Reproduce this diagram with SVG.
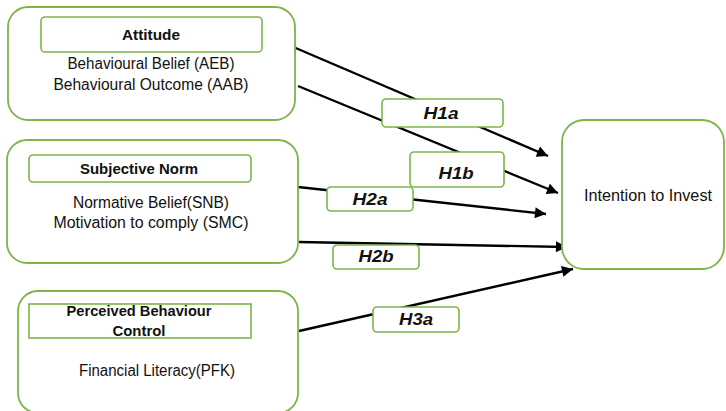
<svg xmlns="http://www.w3.org/2000/svg" width="726" height="411" viewBox="0 0 726 411">
  <defs>
    <marker id="arrow" viewBox="0 0 10 10" refX="10" refY="5" markerWidth="5.5" markerHeight="4.6" markerUnits="strokeWidth" orient="auto">
      <path d="M0,0 L10,5 L0,10 z" fill="#000"/>
    </marker>
  </defs>
  <style>
    .outer { fill: #fff; stroke: #7ab648; stroke-width: 1.8; }
    .inner { fill: #fff; stroke: #7ab648; stroke-width: 1.6; }
    .tag { fill: #fff; stroke: #7ab648; stroke-width: 1.6; }
    .conn { stroke: #000; stroke-width: 2.4; fill: none; marker-end: url(#arrow); }
    text { font-family: "Liberation Sans", Arial, sans-serif; fill: #111; text-anchor: middle; }
    .title { font-size: 15.5px; font-weight: bold; }
    .body { font-size: 16px; }
    .h { font-size: 16.5px; font-weight: bold; font-style: italic; }
  </style>

  <!-- connectors -->
  <g id="connectors">
    <line class="conn" x1="291" y1="46" x2="548" y2="156"/>
    <line class="conn" x1="298" y1="86" x2="558" y2="193"/>
    <line class="conn" x1="298" y1="187" x2="546" y2="214"/>
    <line class="conn" x1="299" y1="242" x2="567" y2="247"/>
    <line class="conn" x1="299" y1="331" x2="573" y2="269"/>
  </g>

  <!-- Attitude -->
  <g id="attitude">
    <rect class="outer" x="8" y="7" width="287" height="113" rx="20"/>
    <rect class="inner" x="41" y="17" width="221" height="35" rx="4"/>
    <text class="title" x="151" y="40" textLength="58" lengthAdjust="spacingAndGlyphs">Attitude</text>
    <text class="body" x="151" y="69" textLength="167" lengthAdjust="spacingAndGlyphs">Behavioural Belief (AEB)</text>
    <text class="body" x="151" y="90" textLength="195" lengthAdjust="spacingAndGlyphs">Behavioural Outcome (AAB)</text>
  </g>

  <!-- Subjective Norm -->
  <g id="subjective-norm">
    <rect class="outer" x="7" y="140" width="291" height="123" rx="20"/>
    <rect class="inner" x="29" y="155" width="222" height="27" rx="4"/>
    <text class="title" x="139" y="174" textLength="118" lengthAdjust="spacingAndGlyphs">Subjective Norm</text>
    <text class="body" x="151" y="208" textLength="156" lengthAdjust="spacingAndGlyphs">Normative Belief(SNB)</text>
    <text class="body" x="151" y="228" textLength="195" lengthAdjust="spacingAndGlyphs">Motivation to comply (SMC)</text>
  </g>

  <!-- Perceived Behaviour Control -->
  <g id="perceived-control">
    <rect class="outer" x="18" y="291" width="280" height="122" rx="20"/>
    <rect class="inner" x="29" y="304" width="222" height="34" rx="0"/>
    <text class="title" x="139" y="316" textLength="145" lengthAdjust="spacingAndGlyphs">Perceived Behaviour</text>
    <text class="title" x="139" y="336" textLength="53" lengthAdjust="spacingAndGlyphs">Control</text>
    <text class="body" x="157" y="376" textLength="156" lengthAdjust="spacingAndGlyphs">Financial Literacy(PFK)</text>
  </g>

  <!-- Intention to Invest -->
  <g id="intention">
    <rect class="outer" x="562" y="120" width="162" height="149" rx="22"/>
    <text class="body" x="648" y="201" textLength="128" lengthAdjust="spacingAndGlyphs">Intention to Invest</text>
  </g>

  <!-- hypothesis labels -->
  <g id="h1a">
    <rect class="tag" x="382" y="99" width="121" height="28" rx="4"/>
    <text class="h" x="441" y="119" textLength="35" lengthAdjust="spacingAndGlyphs">H1a</text>
  </g>
  <g id="h1b">
    <rect class="tag" x="410" y="152" width="94" height="35" rx="4"/>
    <text class="h" x="456" y="179" textLength="35" lengthAdjust="spacingAndGlyphs">H1b</text>
  </g>
  <g id="h2a">
    <rect class="tag" x="327" y="187" width="86" height="24" rx="4"/>
    <text class="h" x="370" y="205" textLength="35" lengthAdjust="spacingAndGlyphs">H2a</text>
  </g>
  <g id="h2b">
    <rect class="tag" x="333" y="245" width="86" height="24" rx="4"/>
    <text class="h" x="376" y="262" textLength="35" lengthAdjust="spacingAndGlyphs">H2b</text>
  </g>
  <g id="h3a">
    <rect class="tag" x="373" y="307" width="86" height="25" rx="4"/>
    <text class="h" x="416" y="325" textLength="34" lengthAdjust="spacingAndGlyphs">H3a</text>
  </g>
</svg>
